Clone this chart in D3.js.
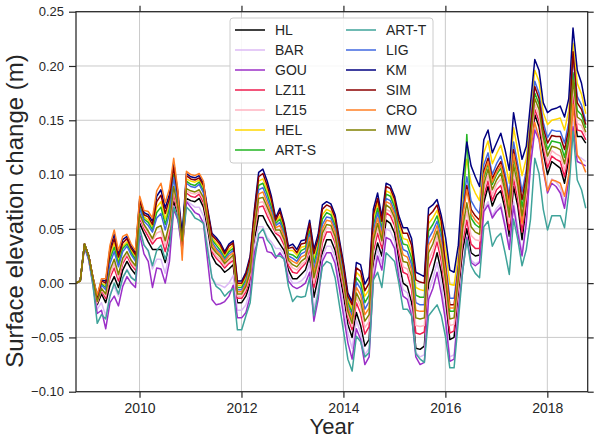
<!DOCTYPE html>
<html><head><meta charset="utf-8">
<script src="https://cdn.jsdelivr.net/npm/d3@7/dist/d3.min.js"></script>
<style>body{margin:0;background:#fff}svg{display:block}text{font-family:"Liberation Sans",Arial,sans-serif;fill:#262626}</style>
</head><body><svg id="c" width="600" height="441"></svg>
<script>
// time axis: monthly values starting Oct 2008
const startYear = 2008.754, endYear = 2018.792;
const xTicks = [2010, 2012, 2014, 2016, 2018];
const yTicks = [-0.10, -0.05, 0.00, 0.05, 0.10, 0.15, 0.20, 0.25];
const seriesNames = ["HL","BAR","GOU","LZ11","LZ15","HEL","ART-S","ART-T","LIG","KM","SIM","CRO","MW"];

// surface elevation change, millimetres
const HL = [0,2,36,25,3,-20,-10,-18,-2,6, -4,12,20,13,8,55,46,38,31,31, 31,19,37,75,60,35,78,76,75,78, 70,50,25,18,15,10,13,17,-18,-18, -12,0,40,62,62,54,48,42,36,30, 12,4,4,8,12,25,-13,5,28,40, 40,30,8,-12,-38,-50,-27,-39,-58,-52, 19,37,25,58,55,46,20,0,-3,-18, -60,-61,-58,0,12,28,10,-15,-52,-50, -10,30,50,28,25,26,74,89,71,81, 85,68,43,89,71,40,71,120,155,144, 120,100,112,109,106,92,114,167,135,135,129];
const BAR = [0,2,34,23,1,-24,-18,-30,-10,-3, -12,4,13,6,2,50,36,29,13,22, 22,9,28,71,59,32,76,73,70,70, 62,35,5,-1,-2,-4,0,7,-25,-25, -20,-6,34,52,52,42,38,32,32,26, 7,0,0,2,6,18,-24,-5,24,34, 34,24,2,-21,-46,-60,-34,-46,-66,-60, 11,31,18,50,48,39,12,-6,-9,-24, -64,-68,-66,-8,4,19,0,-31,-68,-66, -22,14,44,21,18,20,68,75,62,69, 73,55,33,75,51,28,58,110,144,134, 107,86,96,93,88,74,99,149,117,115,112];
const GOU = [0,2,33,21,-2,-28,-25,-42,-18,-12, -21,-3,6,0,-4,45,27,20,-4,14, 13,0,20,68,58,30,75,70,65,63, 55,20,-15,-20,-19,-17,-12,-2,-32,-32, -27,-12,28,42,42,29,28,23,28,22, 2,-3,-5,-3,0,10,-35,-15,20,28, 28,18,-5,-30,-55,-70,-42,-52,-75,-68, 3,25,12,42,40,32,5,-12,-15,-30, -68,-75,-73,-15,-5,10,-10,-35,-72,-70, -25,10,42,19,16,19,66,72,60,66, 70,52,31,71,46,25,55,108,141,132, 104,83,92,89,83,69,95,144,112,110,108];
const LZ11 = [0,2,36,25,3,-18,-7,-14,5,14, 2,18,25,17,12,60,50,43,36,41, 42,29,46,82,65,37,83,80,79,82, 74,54,29,23,19,14,18,21,-14,-14, -8,5,46,70,71,62,54,46,43,35, 16,10,9,14,18,32,-4,13,37,47, 47,37,14,-6,-32,-43,-18,-28,-47,-40, 29,46,32,65,62,53,28,10,8,-6, -46,-47,-45,14,24,38,20,-9,-46,-44, -5,37,58,36,32,32,80,94,76,86, 90,74,49,96,77,47,77,125,160,149, 125,106,117,114,112,98,120,174,141,140,132];
const LZ15 = [0,2,36,25,4,-18,-6,-12,8,18, 5,20,27,19,14,62,52,46,39,46, 48,34,51,86,67,38,85,83,82,84, 77,55,31,25,22,16,20,24,-12,-12, -5,8,48,74,75,66,58,47,46,38, 19,14,12,17,20,35,0,17,41,51, 50,40,18,-3,-29,-40,-13,-22,-41,-35, 34,51,36,68,66,56,33,15,13,0, -39,-40,-39,21,30,43,26,-4,-39,-38, -1,43,66,44,40,39,86,99,81,91, 96,79,55,103,84,55,82,129,165,154, 129,111,122,119,117,104,125,181,147,145,136];
const HEL = [0,2,36,25,5,-14,0,-2,25,37, 21,34,38,30,24,73,61,58,52,70, 75,59,73,104,78,43,96,94,93,95, 88,64,42,37,33,25,31,35,-2,-2, 6,20,62,94,96,86,74,56,62,50, 30,30,26,33,34,51,22,37,63,68, 66,56,34,12,-15,-24,10,6,-12,-6, 58,74,54,85,83,73,54,41,40,29, -4,-6,-7,55,60,67,52,31,-1,-2, 26,82,114,92,83,76,120,131,110,119, 127,112,92,143,122,99,115,157,196,186, 157,146,150,151,152,141,159,221,184,174,156];
const ART_S = [0,2,36,25,4,-14,-1,-4,22,33, 18,32,36,28,22,71,59,56,49,65, 70,54,69,100,76,42,94,91,90,93, 85,63,40,35,30,23,29,32,-4,-4, 3,18,60,90,92,82,70,55,59,48, 27,26,23,30,32,48,18,33,59,65, 63,53,30,9,-18,-27,5,0,-18,-11, 53,69,50,82,80,70,49,36,35,23, -11,-13,-13,48,54,62,46,8,-26,-26, 8,56,137,60,54,51,97,110,91,100, 106,90,67,116,97,70,93,138,175,165, 138,123,131,130,129,116,136,194,159,155,143];
const ART_T = [0,2,34,22,-2,-37,-29,-33,-12,0, -10,5,12,5,2,50,35,30,16,30, 35,22,35,70,60,35,70,66,60,58, 55,30,5,-3,-6,-12,-8,-5,-43,-43, -30,-18,20,45,50,40,35,25,25,22, -3,-17,-12,-13,-12,5,-30,-10,15,20, 18,5,-20,-45,-70,-81,-49,-54,-68,-64, 3,10,-4,28,24,20,0,-24,-24,-30, -65,-70,-73,-30,-25,-20,-30,-50,-78,-78, -35,10,40,16,9,5,52,57,34,42, 46,28,8,59,40,16,31,59,115,101, 68,49,62,62,62,51,83,140,95,86,69];
const LIG = [0,2,36,25,4,-15,-2,-6,18,29, 15,29,34,26,20,69,57,53,47,60, 64,49,64,97,74,41,92,89,88,91, 83,61,38,32,28,21,27,30,-6,-6, 1,15,57,86,88,78,67,53,56,45, 25,23,20,27,29,45,13,29,54,61, 60,50,27,6,-21,-30,1,-5,-24,-17, 48,65,47,78,76,66,45,31,29,17, -18,-20,-20,41,48,57,41,19,-14,-14, 17,69,98,76,69,64,109,120,100,110, 117,101,80,130,109,84,104,148,186,175, 148,134,141,140,140,129,148,208,172,164,149];
const KM = [0,2,36,25,5,-12,3,2,32,45, 27,40,43,34,28,78,65,63,57,80, 86,69,82,111,83,45,101,98,97,99, 92,68,46,42,37,29,36,39,2,2, 10,25,68,102,105,94,80,60,69,55, 34,36,31,39,40,58,31,45,72,75, 73,63,40,18,-9,-17,19,17,-1,6, 68,83,61,92,90,80,62,51,51,41, 10,8,6,69,72,77,62,42,12,10, 35,95,130,108,98,89,132,141,120,129, 138,123,104,157,135,114,126,166,206,196, 166,157,160,161,163,153,170,235,196,184,163];
const SIM = [0,2,36,25,5,-13,2,0,29,41, 24,37,41,32,26,76,63,61,54,75, 81,64,78,107,81,34,99,96,95,97, 90,66,44,40,35,27,34,37,0,0, 8,23,65,98,101,90,77,58,66,53, 32,33,28,36,37,55,27,41,68,72, 70,60,37,15,-12,-20,14,11,-7,0, 63,78,57,89,87,77,58,46,46,35, 3,1,0,62,66,72,57,14,-20,-20, 13,63,90,68,62,58,103,115,96,105, 112,96,74,123,103,77,99,143,181,170, 143,129,136,135,135,123,142,213,166,160,146];
const CRO = [0,2,36,25,5,-11,4,4,35,49, 30,43,45,36,30,80,67,66,60,85, 92,74,87,115,85,21,103,100,99,101, 94,59,36,30,26,20,25,28,-8,-8, -1,13,54,82,84,74,64,51,53,43, 23,20,18,24,26,42,9,25,50,58, 57,47,24,3,-23,-33,-4,-11,-29,-23, 44,60,43,75,73,63,41,26,24,12, -25,-26,-26,35,42,53,36,11,-23,-23, 10,60,86,64,58,54,100,112,93,102, 109,93,70,119,100,55,88,125,148,134, 106,85,95,94,92,80,100,165,118,112,102];
const MW = [0,2,36,25,4,-17,-5,-10,12,22, 8,23,29,21,16,64,54,48,41,51, 53,39,55,89,69,39,87,85,84,86, 79,57,33,28,24,18,22,26,-10,-10, -3,10,51,78,79,70,61,49,49,40, 21,17,15,20,23,38,5,21,46,54, 53,43,21,0,-26,-37,-9,-17,-35,-29, 39,55,39,72,69,60,37,20,19,6, -32,-33,-32,28,36,48,31,2,-33,-32, 4,50,74,52,47,45,91,105,86,95, 101,85,61,109,90,62,88,134,170,160, 134,117,126,125,123,110,131,187,153,150,139];

const seriesData = [HL, BAR, GOU, LZ11, LZ15, HEL, ART_S, ART_T, LIG, KM, SIM, CRO, MW];
const seriesColors = ["#000000","#dcbaf5","#9b2fc7","#ee1c4e","#ffb3c0","#ffd700","#22b422","#3fa39a","#4169e1","#000080","#8b0000","#ff7f24","#808000"];

const svg = d3.select("#c");
const L = 76, R = 587.7, T = 11.7, B = 391.7;
const x = d3.scaleLinear().domain([startYear, endYear]).range([L, R]);
const y = d3.scaleLinear().domain([-0.10, 0.25]).range([B, T]);

// grid
const grid = svg.append("g").attr("stroke", "#c4c4c4").attr("stroke-width", 0.9);
xTicks.forEach(t => grid.append("line").attr("x1", x(t)).attr("x2", x(t)).attr("y1", T).attr("y2", B));
yTicks.forEach(t => grid.append("line").attr("x1", L).attr("x2", R).attr("y1", y(t)).attr("y2", y(t)));

// lines
svg.append("defs").append("clipPath").attr("id", "clip").append("rect")
  .attr("x", L).attr("y", T).attr("width", R - L).attr("height", B - T);
const line = d3.line().x((d, i) => x(startYear + i / 12)).y(d => y(d / 1000));
const lg = svg.append("g").attr("clip-path", "url(#clip)");
seriesData.forEach((s, k) => {
  lg.append("path").attr("d", line(s)).attr("fill", "none")
    .attr("stroke", seriesColors[k]).attr("stroke-width", 1.5).attr("stroke-linejoin", "round");
});

// axes
const fmt = v => (v < 0 ? "\u2212" : "") + Math.abs(v).toFixed(2);
const axB = svg.append("g").attr("transform", `translate(0,${B})`)
  .call(d3.axisBottom(x).tickValues(xTicks).tickFormat(d3.format("d")).tickSizeOuter(0).tickSize(6).tickPadding(5));
const axT = svg.append("g").attr("transform", `translate(0,${T})`)
  .call(d3.axisTop(x).tickValues(xTicks).tickFormat("").tickSizeOuter(0).tickSize(6));
const axL = svg.append("g").attr("transform", `translate(${L},0)`)
  .call(d3.axisLeft(y).tickValues(yTicks).tickFormat(fmt).tickSizeOuter(0).tickSize(7).tickPadding(5));
const axR = svg.append("g").attr("transform", `translate(${R},0)`)
  .call(d3.axisRight(y).tickValues(yTicks).tickFormat("").tickSizeOuter(0).tickSize(6));
[axB, axT, axL, axR].forEach(a => {
  a.select(".domain").remove();
  a.selectAll(".tick line").attr("stroke", "#262626").attr("stroke-width", 1.2);
  a.selectAll(".tick text").attr("fill", "#262626")
    .style("font-family", '"Liberation Sans", Arial, sans-serif');
});
axB.selectAll(".tick text").style("font-size", "14px");
axL.selectAll(".tick text").style("font-size", "13px");
svg.append("rect").attr("x", L).attr("y", T).attr("width", R - L).attr("height", B - T)
  .attr("fill", "none").attr("stroke", "#262626").attr("stroke-width", 1.25);

// axis titles
svg.append("text").attr("x", (L + R) / 2).attr("y", 434).attr("text-anchor", "middle")
  .style("font-size", "22px").text("Year");
svg.append("text").attr("transform", "translate(23,211) rotate(-90)").attr("text-anchor", "middle")
  .style("font-size", "24px").text("Surface elevation change (m)");

// legend
const leg = svg.append("g");
leg.append("rect").attr("x", 230).attr("y", 18).attr("width", 203).attr("height", 145).attr("rx", 3)
  .attr("fill", "#fff").attr("fill-opacity", 0.85).attr("stroke", "#cccccc").attr("stroke-width", 1);
seriesNames.forEach((n, k) => {
  const col = k < 7 ? 0 : 1, row = k < 7 ? k : k - 7;
  const lx = col === 0 ? 235 : 346, ly = 30 + row * 20;
  leg.append("line").attr("x1", lx).attr("x2", lx + 30).attr("y1", ly).attr("y2", ly)
    .attr("stroke", seriesColors[k]).attr("stroke-width", 1.5);
  leg.append("text").attr("x", lx + 40).attr("y", ly + 5).style("font-size", "14px").text(n);
});
</script></body></html>
